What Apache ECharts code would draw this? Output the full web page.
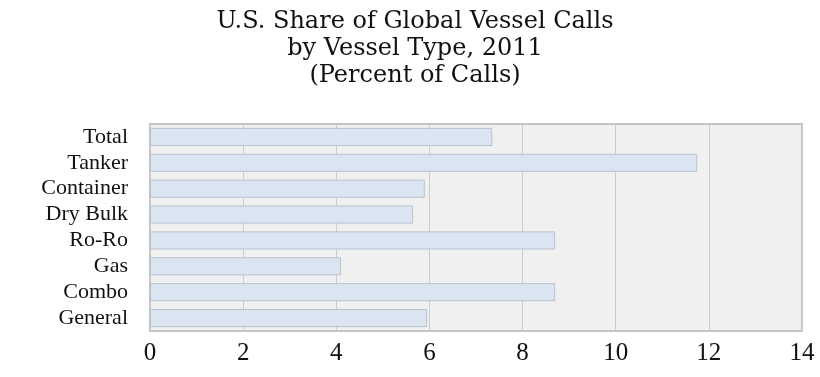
<!DOCTYPE html>
<html>
<head>
<meta charset="utf-8">
<script src="https://cdn.jsdelivr.net/npm/echarts@6/dist/echarts.min.js"></script>
<style>
html,body{margin:0;padding:0;background:#fff;}
#chart{width:820px;height:377px;}
</style>
</head>
<body>
<div id="chart"></div>
<script>
const categories = ["Total","Tanker","Container","Dry Bulk","Ro-Ro","Gas","Combo","General"];
const shareValues = [7.35, 11.75, 5.9, 5.65, 8.7, 4.1, 8.7, 5.95];
const xTicks = [0, 2, 4, 6, 8, 10, 12, 14];
const titleLines = ["U.S. Share of Global Vessel Calls", "by Vessel Type, 2011", "(Percent of Calls)"];

const chart = echarts.init(document.getElementById('chart'));
const serif = '"Liberation Serif", "DejaVu Serif", serif';
chart.setOption({
  animation: false,
  backgroundColor: '#ffffff',
  title: {
    text: titleLines.join('\n'),
    left: 410,
    textAlign: 'center',
    top: 3,
    textStyle: {fontFamily: '"DejaVu Serif", serif', fontSize: 24, fontWeight: 'normal', color: '#111', lineHeight: 27}
  },
  grid: {
    left: 150, right: 18, top: 124, bottom: 46,
    show: true, backgroundColor: '#f0f0f0', borderColor: '#c4c4c4', borderWidth: 2
  },
  xAxis: {
    type: 'value',
    min: xTicks[0], max: xTicks[xTicks.length-1], interval: 2,
    axisLine: {show: false},
    axisTick: {show: false},
    axisLabel: {fontFamily: serif, fontSize: 25, color: '#111', margin: 10},
    splitLine: {show: true, lineStyle: {color: '#cccccc', width: 1}}
  },
  yAxis: {
    type: 'category',
    data: categories,
    inverse: true,
    axisLine: {show: false},
    axisTick: {show: false},
    axisLabel: {interval: 0, fontFamily: serif, fontSize: 22, color: '#111', margin: 22, padding: [0, 0, 3, 0]}
  },
  series: [{
    type: 'bar',
    data: shareValues,
    barCategoryGap: '30%',
    itemStyle: {color: '#dbe5f1', borderColor: '#b8c2ce', borderWidth: 1}
  }]
});
</script>
</body>
</html>
